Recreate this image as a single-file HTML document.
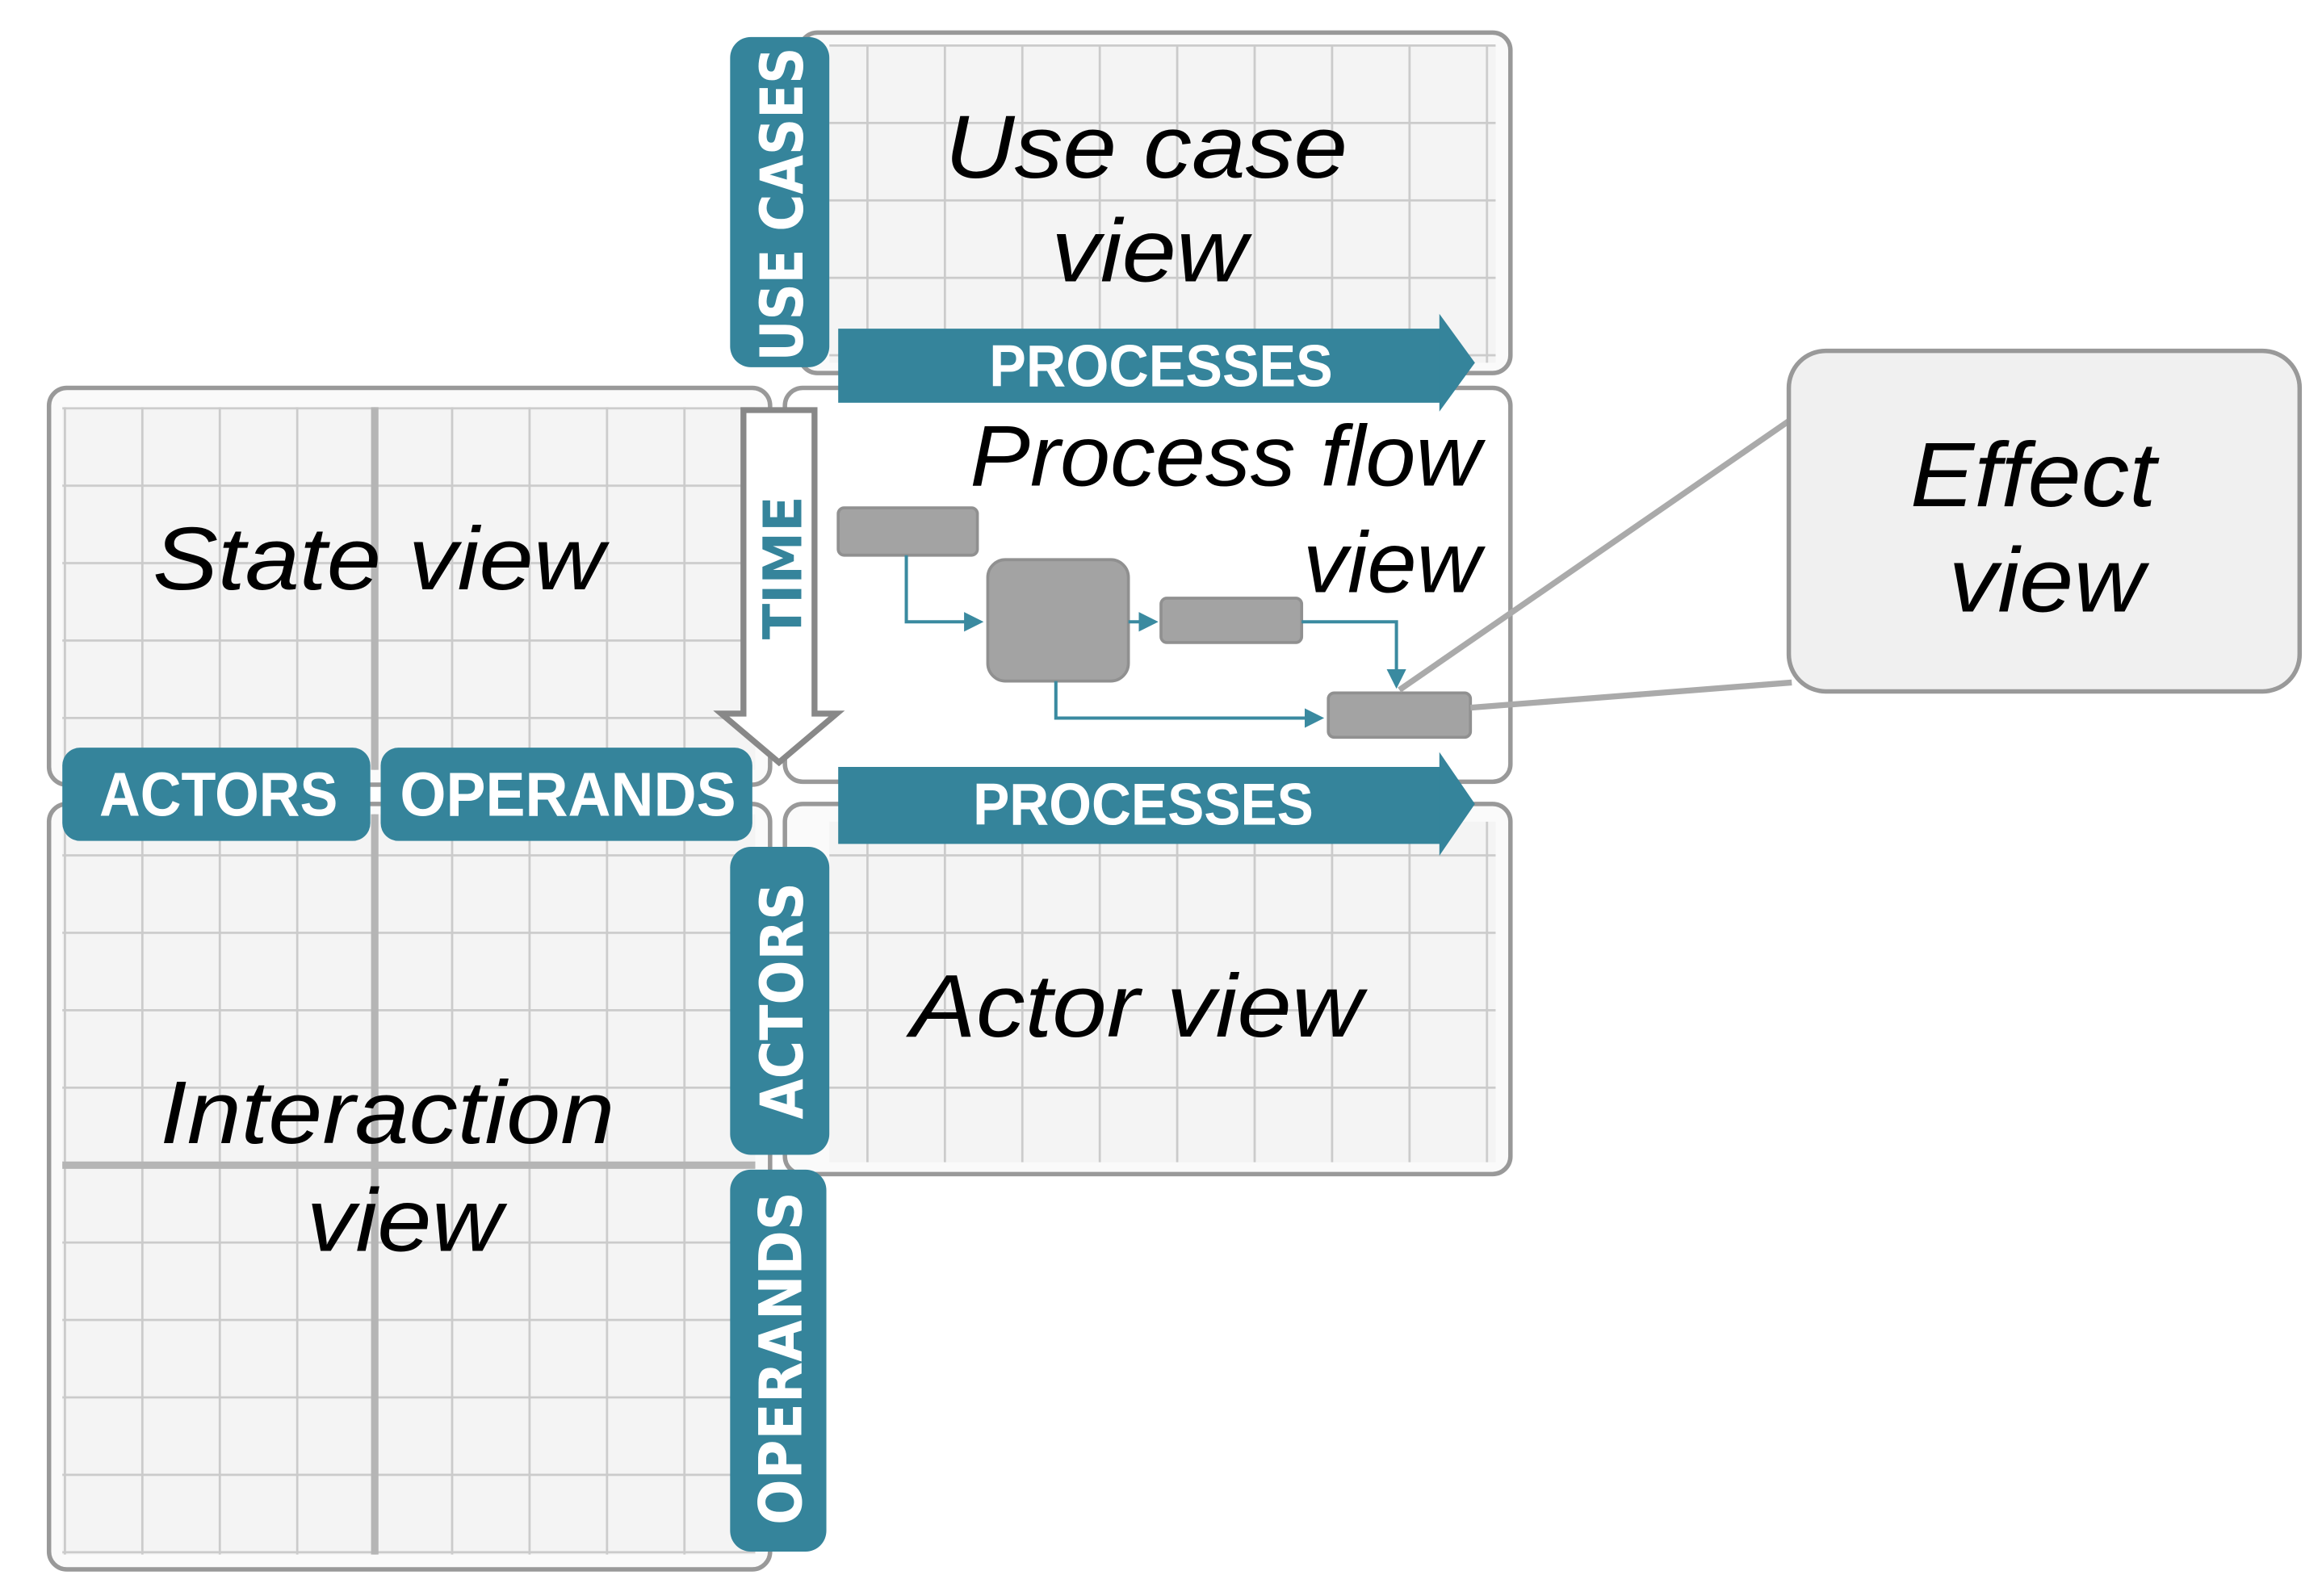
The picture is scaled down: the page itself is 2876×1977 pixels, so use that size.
<!DOCTYPE html>
<html><head><meta charset="utf-8"><style>
html,body{margin:0;padding:0;background:#fff;}
svg{display:block;}
.it{font-family:"Liberation Sans",sans-serif;font-style:italic;fill:#000;}
.lb{font-family:"Liberation Sans",sans-serif;font-weight:bold;fill:#fff;}
.vl{font-family:"DejaVu Sans","Liberation Sans",sans-serif;font-weight:bold;fill:#fff;}
</style></head><body>
<svg width="2876" height="1977" viewBox="0 0 1568 1078" xmlns="http://www.w3.org/2000/svg">
<defs>
<pattern id="g1" x="43" y="275" width="52.3" height="52.3" patternUnits="userSpaceOnUse">
<rect width="52.3" height="52.3" fill="#f4f4f4"/>
<path d="M0 0V52.3M0 0H52.3" stroke="#cbcbcb" stroke-width="3" fill="none"/>
</pattern>
<pattern id="g2" x="585" y="30" width="52.3" height="52.3" patternUnits="userSpaceOnUse">
<rect width="52.3" height="52.3" fill="#f4f4f4"/>
<path d="M0 0V52.3M0 0H52.3" stroke="#cbcbcb" stroke-width="3" fill="none"/>
</pattern>
<pattern id="g3" x="43" y="577" width="52.3" height="52.3" patternUnits="userSpaceOnUse">
<rect width="52.3" height="52.3" fill="#f4f4f4"/>
<path d="M0 0V52.3M0 0H52.3" stroke="#cbcbcb" stroke-width="3" fill="none"/>
</pattern>
<pattern id="g4" x="585" y="577" width="52.3" height="52.3" patternUnits="userSpaceOnUse">
<rect width="52.3" height="52.3" fill="#f4f4f4"/>
<path d="M0 0V52.3M0 0H52.3" stroke="#cbcbcb" stroke-width="3" fill="none"/>
</pattern>
<marker id="ar" markerWidth="6" markerHeight="6" refX="5" refY="3" orient="auto" markerUnits="strokeWidth">
<path d="M0 0L6 3L0 6z" fill="#3a8aa0"/>
</marker>
</defs>

<rect x="540" y="22" width="480" height="230" rx="12" fill="#fafafa" stroke="#999" stroke-width="3"/>
<rect x="560" y="30" width="450" height="215" fill="url(#g2)"/>
<rect x="33" y="262" width="487" height="268" rx="12" fill="#fafafa" stroke="#999" stroke-width="3"/>
<rect x="42" y="275" width="468" height="245" fill="url(#g1)"/>
<line x1="253" y1="275" x2="253" y2="520" stroke="#b5b5b5" stroke-width="5"/>
<rect x="530" y="262" width="490" height="266" rx="12" fill="#fff" stroke="#999" stroke-width="3"/>
<rect x="33" y="543" width="487" height="517" rx="12" fill="#fafafa" stroke="#999" stroke-width="3"/>
<rect x="42" y="550" width="468" height="500" fill="url(#g3)"/>
<line x1="253" y1="550" x2="253" y2="1050" stroke="#b5b5b5" stroke-width="5"/>
<line x1="42" y1="787" x2="510" y2="787" stroke="#b5b5b5" stroke-width="5"/>
<rect x="530" y="543" width="490" height="250" rx="12" fill="#fafafa" stroke="#999" stroke-width="3"/>
<rect x="560" y="555" width="450" height="230" fill="url(#g4)"/>

<text class="it" x="638" y="120" font-size="60" textLength="272" lengthAdjust="spacingAndGlyphs">Use case</text>
<text class="it" x="710" y="190" font-size="60" textLength="132" lengthAdjust="spacingAndGlyphs">view</text>
<text class="it" x="103" y="398" font-size="60" textLength="305" lengthAdjust="spacingAndGlyphs">State view</text>
<text class="it" x="615" y="700" font-size="60" textLength="305" lengthAdjust="spacingAndGlyphs">Actor view</text>
<text class="it" x="108" y="772" font-size="60" textLength="307" lengthAdjust="spacingAndGlyphs">Interaction</text>
<text class="it" x="207" y="845" font-size="60" textLength="132" lengthAdjust="spacingAndGlyphs">view</text>
<text class="it" x="655" y="328" font-size="58" textLength="345" lengthAdjust="spacingAndGlyphs">Process flow</text>
<text class="it" x="880" y="400" font-size="58" textLength="120" lengthAdjust="spacingAndGlyphs">view</text>

<rect x="566" y="343" width="94" height="32" rx="4" fill="#a3a3a3" stroke="#909090" stroke-width="2"/>
<rect x="667" y="378" width="95" height="82" rx="12" fill="#a3a3a3" stroke="#909090" stroke-width="2"/>
<rect x="784" y="404" width="95" height="30" rx="4" fill="#a3a3a3" stroke="#909090" stroke-width="2"/>
<rect x="897" y="468" width="96" height="30" rx="4" fill="#a3a3a3" stroke="#909090" stroke-width="2"/>
<g stroke="#3a8aa0" stroke-width="2.2" fill="none" marker-end="url(#ar)">
<path d="M612 375V420H662"/>
<path d="M762 420H780"/>
<path d="M879 420H943V463"/>
<path d="M713 460V485H892"/>
</g>

<line x1="945" y1="466" x2="1210" y2="283" stroke="#aaa" stroke-width="4"/>
<line x1="993" y1="478" x2="1210" y2="461" stroke="#aaa" stroke-width="4"/>
<rect x="1208" y="237" width="345" height="230" rx="25" fill="#f0f0f0" stroke="#999" stroke-width="3"/>
<text class="it" x="1290" y="342" font-size="62" textLength="166" lengthAdjust="spacingAndGlyphs">Effect</text>
<text class="it" x="1316" y="413" font-size="62" textLength="132" lengthAdjust="spacingAndGlyphs">view</text>

<path d="M566 222H972L996 245L972 272H566Z" fill="#35849b"/>
<path d="M972 212L996 245L972 278Z" fill="#35849b"/>
<text class="lb" x="668" y="261" font-size="40" textLength="232" lengthAdjust="spacingAndGlyphs">PROCESSES</text>
<path d="M566 518H972L996 543L972 570H566Z" fill="#35849b"/>
<path d="M972 508L996 543L972 578Z" fill="#35849b"/>
<text class="lb" x="657" y="557" font-size="40" textLength="230" lengthAdjust="spacingAndGlyphs">PROCESSES</text>

<path d="M502 277H550V482H565L526 515L487 482H502Z" fill="#fff" stroke="#888" stroke-width="4"/>
<text class="vl" transform="translate(541,432) rotate(-90)" font-size="36" style="fill:#35849b" textLength="97" lengthAdjust="spacingAndGlyphs">TIME</text>

<rect x="493" y="25" width="67" height="223" rx="14" fill="#35849b"/>
<text class="vl" transform="translate(542,244) rotate(-90)" font-size="40" textLength="212" lengthAdjust="spacingAndGlyphs">USE CASES</text>
<rect x="493" y="572" width="67" height="208" rx="14" fill="#35849b"/>
<text class="vl" transform="translate(542,756) rotate(-90)" font-size="40" textLength="160" lengthAdjust="spacingAndGlyphs">ACTORS</text>
<rect x="493" y="790" width="65" height="258" rx="14" fill="#35849b"/>
<text class="vl" transform="translate(541,1030) rotate(-90)" font-size="40" textLength="225" lengthAdjust="spacingAndGlyphs">OPERANDS</text>

<rect x="42" y="505" width="208" height="63" rx="12" fill="#35849b"/>
<text class="lb" x="67" y="551" font-size="42" textLength="161" lengthAdjust="spacingAndGlyphs">ACTORS</text>
<rect x="257" y="505" width="251" height="63" rx="12" fill="#35849b"/>
<text class="lb" x="270" y="551" font-size="42" textLength="227" lengthAdjust="spacingAndGlyphs">OPERANDS</text>
</svg>
</body></html>
